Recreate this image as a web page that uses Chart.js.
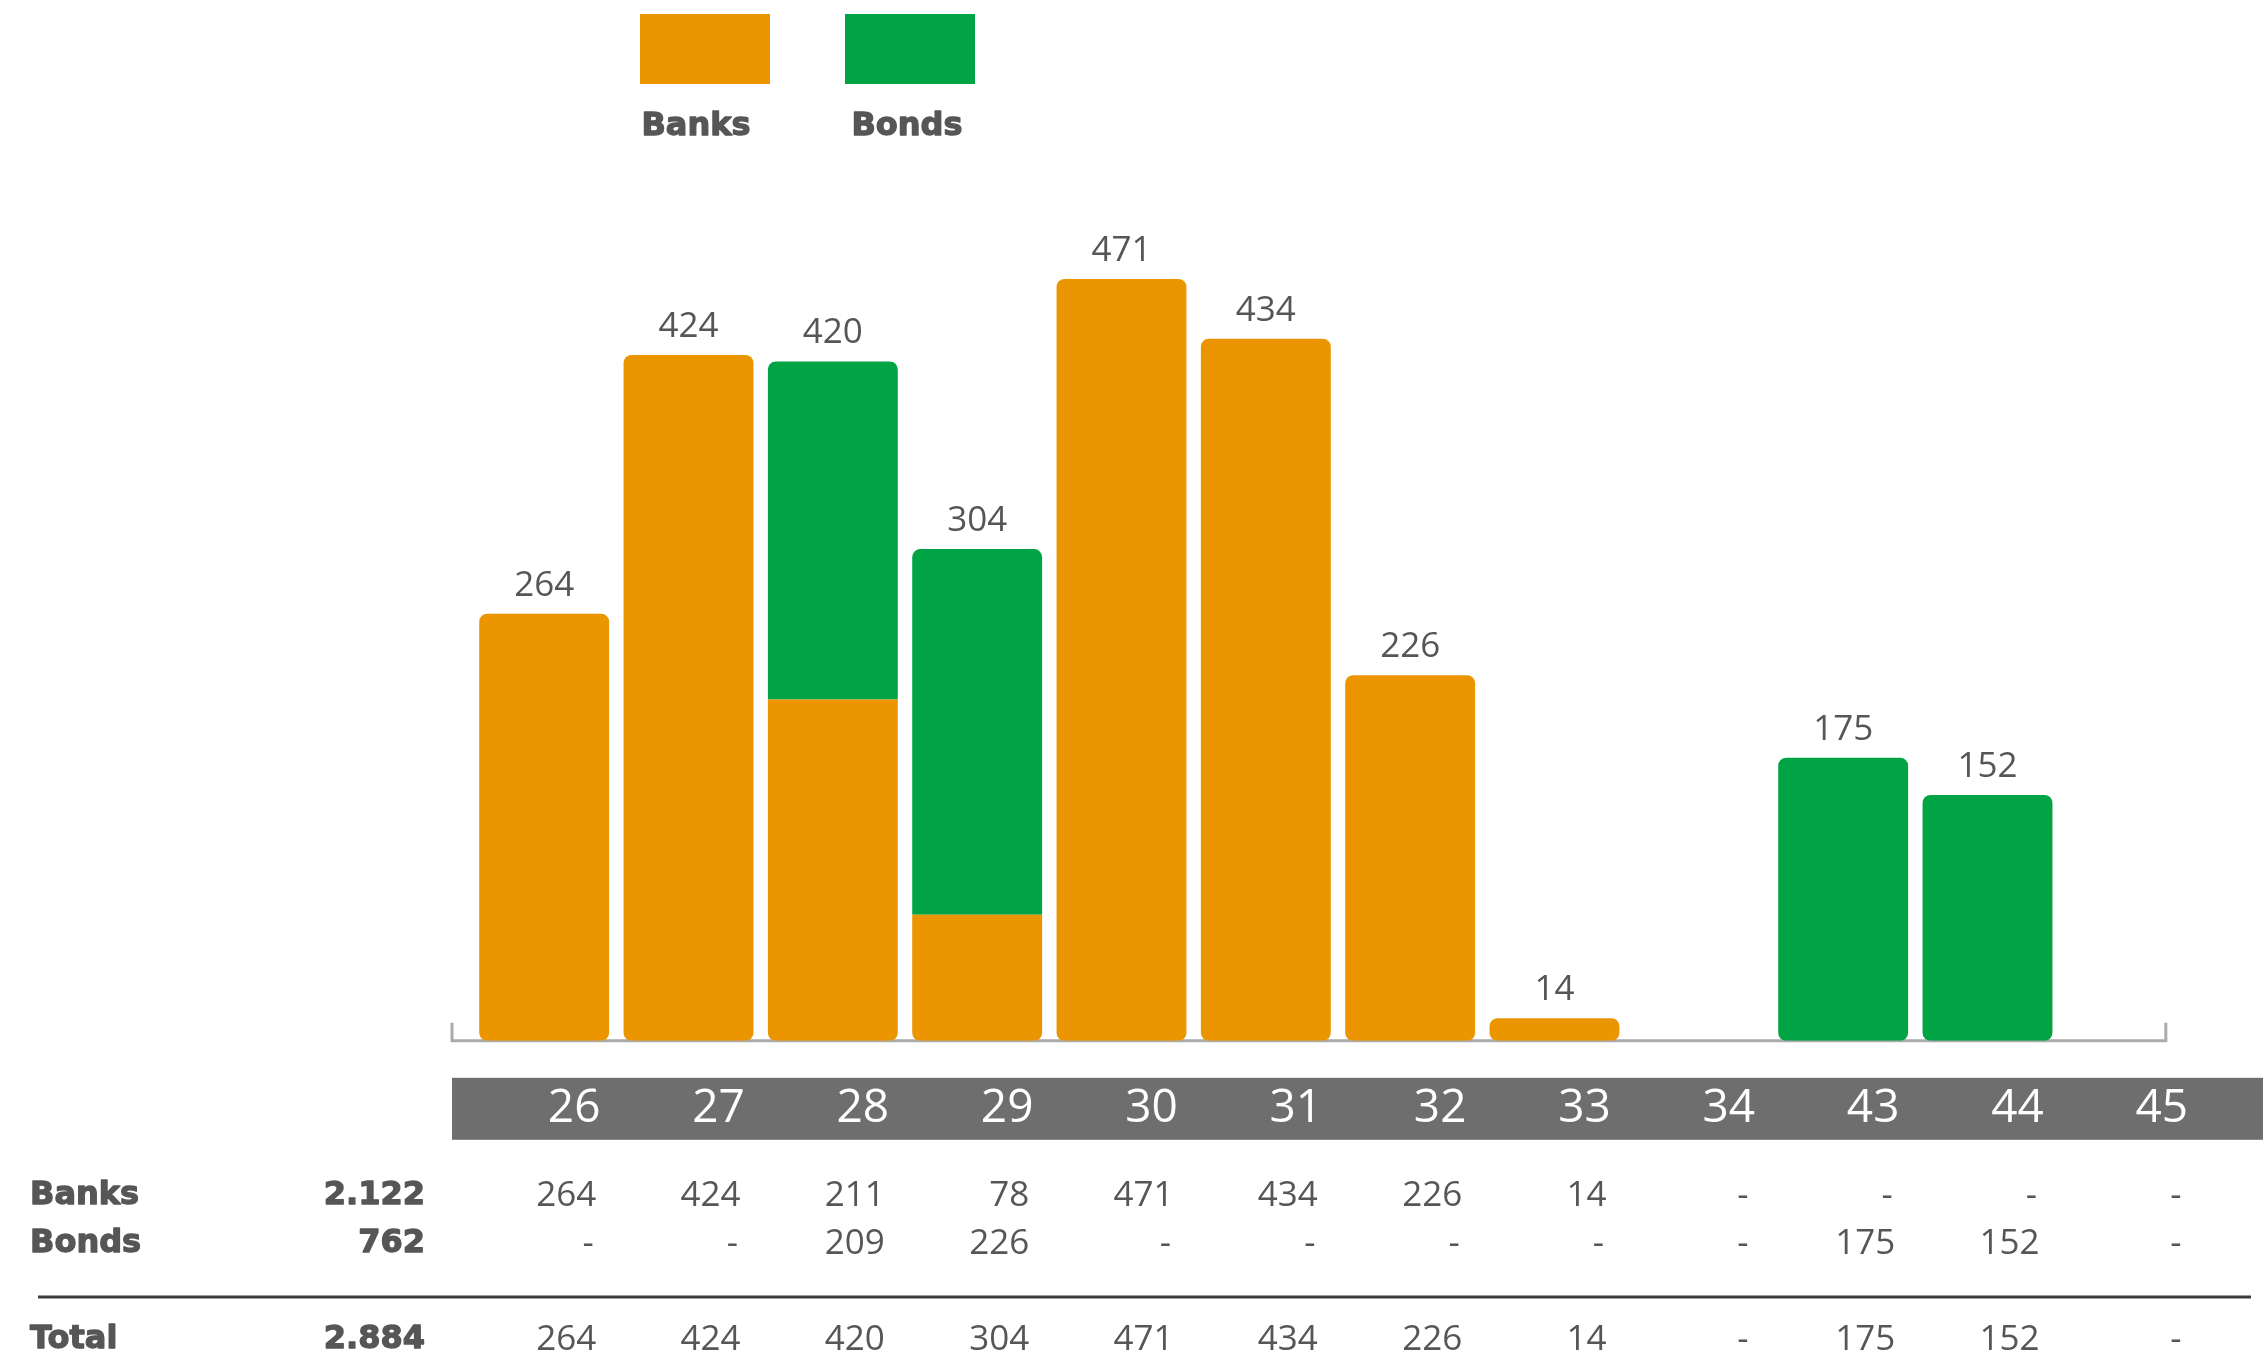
<!DOCTYPE html>
<html><head><meta charset="utf-8">
<script src="https://cdn.jsdelivr.net/npm/chart.js@4.4.1/dist/chart.umd.min.js"></script>
<style>html,body{margin:0;padding:0;background:#fff;overflow:hidden}#wrap{width:2263px;height:1361px;position:relative}</style>
</head><body><div id="wrap"><canvas id="c" width="2263" height="1361"></canvas></div>
<script>
const categories = ['26','27','28','29','30','31','32','33','34','43','44','45'];
const banks = [264, 424, 211, 78, 471, 434, 226, 14, null, null, null, null];
const bonds = [null, null, 209, 226, null, null, null, null, null, 175, 152, null];
const seriesNames = ['Banks', 'Bonds'];
const rowLabels = ['Banks', 'Bonds', 'Total'];
const seriesColors = ['#EB9500', '#00A444'];

const FONT = '"Open Sans", "Noto Sans", sans-serif';
const BOLD = '"DejaVu Sans", "Open Sans", sans-serif';
const TEXT = '#565656';

function fmt(n) {
  if (n === null || n === undefined || n === 0) return '-';
  return String(n).replace(/\B(?=(\d{3})+(?!\d))/g, '.');
}
function sum(a) { return a.reduce((s, v) => s + (v || 0), 0); }

function boldText(ctx, s, x, y) {
  ctx.fillText(s, x, y);
  ctx.strokeText(s, x, y);
}

const legendPlugin = {
  id: 'customLegend',
  afterDraw(chart) {
    const ctx = chart.ctx;
    ctx.save();
    let x = 640;
    chart.data.datasets.forEach((ds, k) => {
      ctx.fillStyle = ds.backgroundColor;
      ctx.fillRect(x, 14, 130, 70);
      ctx.fillStyle = TEXT;
      ctx.strokeStyle = TEXT;
      ctx.lineWidth = 1.3;
      ctx.lineJoin = 'round';
      ctx.font = 'bold 32px ' + BOLD;
      ctx.textAlign = 'center';
      ctx.textBaseline = 'middle';
      boldText(ctx, ds.label, x + 56 + k * 6, 127);
      x += 205;
    });
    ctx.restore();
  }
};

const bandPlugin = {
  id: 'band',
  beforeDraw(chart) {
    const ctx = chart.ctx, a = chart.chartArea;
    ctx.save();
    ctx.fillStyle = '#6e6e6e';
    ctx.fillRect(a.left - 20, a.bottom + 37, chart.width - (a.left - 20), 62);
    ctx.restore();
  },
  beforeDatasetsDraw(chart) {
    const ctx = chart.ctx, a = chart.chartArea, xs = chart.scales.x;
    const l = a.left - 20, r = xs.getPixelForValue(categories.length - 1) + 34, y = a.bottom;
    ctx.save();
    ctx.strokeStyle = '#ababab';
    ctx.lineWidth = 3;
    ctx.beginPath();
    ctx.moveTo(l, y - 18); ctx.lineTo(l, y); ctx.lineTo(r, y); ctx.lineTo(r, y - 18);
    ctx.stroke();
    ctx.restore();
  }
};

const totalsPlugin = {
  id: 'totals',
  afterDatasetsDraw(chart) {
    const ctx = chart.ctx, xs = chart.scales.x, ys = chart.scales.y;
    ctx.save();
    ctx.fillStyle = TEXT;
    ctx.font = '400 35px ' + FONT;
    ctx.textAlign = 'center';
    ctx.textBaseline = 'middle';
    categories.forEach((c, i) => {
      const t = (banks[i] || 0) + (bonds[i] || 0);
      if (!t) return;
      ctx.fillText(String(t), xs.getPixelForValue(i), ys.getPixelForValue(t) - 28);
    });
    ctx.restore();
  }
};

const tablePlugin = {
  id: 'table',
  afterDraw(chart) {
    const ctx = chart.ctx, xs = chart.scales.x;
    const totals = categories.map((c, i) => (banks[i] || 0) + (bonds[i] || 0));
    const rows = [banks, bonds, totals];
    const ys = [1196, 1244, 1340];
    ctx.save();
    ctx.textBaseline = 'middle';
    ctx.strokeStyle = TEXT;
    ctx.lineWidth = 1.3;
    ctx.lineJoin = 'round';
    rows.forEach((row, r) => {
      ctx.fillStyle = TEXT;
      ctx.font = 'bold 32px ' + BOLD;
      ctx.textAlign = 'left';
      boldText(ctx, rowLabels[r], 30, ys[r]);
      ctx.textAlign = 'right';
      boldText(ctx, fmt(sum(row)), 425, ys[r]);
      ctx.font = '400 35px ' + FONT;
      row.forEach((v, i) => {
        const px = xs.getPixelForValue(i);
        if (v) {
          ctx.textAlign = 'right';
          ctx.fillText(fmt(v), px + 52, ys[r]);
        } else {
          ctx.textAlign = 'center';
          ctx.fillText('-', px + 44, ys[r]);
        }
      });
    });
    ctx.strokeStyle = '#3c3c3c';
    ctx.lineWidth = 3;
    ctx.beginPath();
    ctx.moveTo(38, 1297); ctx.lineTo(2251, 1297);
    ctx.stroke();
    ctx.restore();
  }
};

function radiusFor(dsIndex) {
  return (c) => {
    const i = c.dataIndex;
    const stackedBelow = dsIndex === 1 && banks[i];
    const stackedAbove = dsIndex === 0 && bonds[i];
    const tr = stackedAbove ? 0 : 8;
    const br = stackedBelow ? 0 : 8;
    return { topLeft: tr, topRight: tr, bottomLeft: br, bottomRight: br };
  };
}

function build() {
  new Chart(document.getElementById('c'), {
    type: 'bar',
    data: {
      labels: categories,
      datasets: [
        { label: seriesNames[0], data: banks, backgroundColor: seriesColors[0], borderSkipped: false, borderRadius: radiusFor(0), barPercentage: 0.9, categoryPercentage: 1 },
        { label: seriesNames[1], data: bonds, backgroundColor: seriesColors[1], borderSkipped: false, borderRadius: radiusFor(1), barPercentage: 0.9, categoryPercentage: 1 }
      ]
    },
    options: {
      responsive: false,
      animation: false,
      devicePixelRatio: 1,
      layout: { padding: { left: 472, right: 59, top: 232, bottom: 185 } },
      plugins: { legend: { display: false }, tooltip: { enabled: false } },
      scales: {
        x: {
          stacked: true,
          grid: { display: false, drawTicks: false },
          border: { display: false },
          ticks: { color: '#ffffff', font: { family: FONT, size: 46, lineHeight: 1.2 }, padding: 40, labelOffset: 30, maxRotation: 0, autoSkip: false }
        },
        y: { stacked: true, display: false, min: 0, max: 500 }
      }
    },
    plugins: [bandPlugin, totalsPlugin, tablePlugin, legendPlugin]
  });
}
Promise.all([
  document.fonts.load('46px "Open Sans"'),
  document.fonts.load('bold 32px "DejaVu Sans"')
]).then(build, build);
</script></body></html>
